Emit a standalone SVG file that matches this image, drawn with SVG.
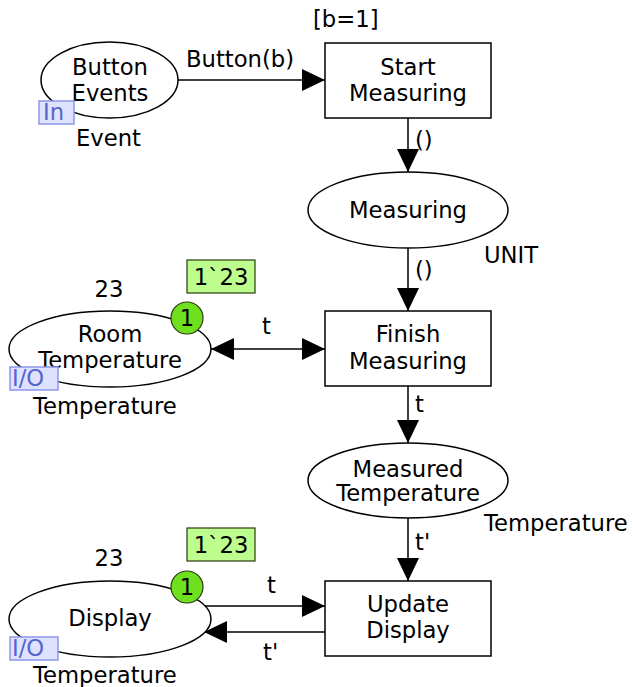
<svg xmlns="http://www.w3.org/2000/svg" width="633" height="687" viewBox="0 0 633 687">
<style>
text{font-family:"DejaVu Sans","Verdana",sans-serif;font-size:22.7px;fill:#000}
.c{text-anchor:middle}
.place,.trans{fill:#fff;stroke:#000;stroke-width:1.5}
.arc{stroke:#000;stroke-width:1.5;fill:none}
.port{fill:#dfe2ff;stroke:#8c96e8;stroke-width:1.5}
.portt{fill:#5566cc}
.tok{fill:#6ee01e;stroke:#2a3a10;stroke-width:1.2}
.mark{fill:#bdfd8e;stroke:#2a3a10;stroke-width:1.2}
</style>
<defs>
<marker id="ah" viewBox="0 0 23 22" refX="23" refY="11" markerWidth="23" markerHeight="22" markerUnits="userSpaceOnUse" orient="auto-start-reverse">
<path d="M0,0 L23,11 L0,22 z" fill="#000"/>
</marker>
</defs>
<g id="connectors">
<line class="arc" x1="178" y1="80" x2="325" y2="80" marker-end="url(#ah)"/>
<text x="186" y="67">Button(b)</text>
<line class="arc" x1="408" y1="118" x2="408" y2="172" marker-end="url(#ah)"/>
<text x="415" y="148">()</text>
<line class="arc" x1="408" y1="248" x2="408" y2="311" marker-end="url(#ah)"/>
<text x="415" y="278">()</text>
<line class="arc" x1="211" y1="349" x2="325" y2="349" marker-start="url(#ah)" marker-end="url(#ah)"/>
<text x="262" y="334">t</text>
<line class="arc" x1="408" y1="386" x2="408" y2="443" marker-end="url(#ah)"/>
<text x="415" y="412">t</text>
<line class="arc" x1="408" y1="518" x2="408" y2="581" marker-end="url(#ah)"/>
<text x="415" y="550">t'</text>
<line class="arc" x1="203" y1="606" x2="325" y2="606" marker-end="url(#ah)"/>
<text x="267" y="593">t</text>
<line class="arc" x1="325" y1="632" x2="204" y2="632" marker-end="url(#ah)"/>
<text x="263" y="660">t'</text>
</g>
<g id="button-events">
<ellipse class="place" cx="109.5" cy="80" rx="68.5" ry="38"/>
<text class="c" x="110" y="75">Button</text>
<text class="c" x="110" y="101">Events</text>
<rect class="port" x="39" y="101" width="35" height="23"/>
<text class="portt" x="43" y="120">In</text>
<text x="76" y="146">Event</text>
</g>
<g id="start-measuring">
<rect class="trans" x="325" y="43" width="166" height="75"/>
<text class="c" x="408" y="75">Start</text>
<text class="c" x="408" y="101">Measuring</text>
<text x="313" y="27">[b=1]</text>
</g>
<g id="measuring">
<ellipse class="place" cx="408" cy="210" rx="100" ry="38"/>
<text class="c" x="408" y="218">Measuring</text>
<text x="484" y="263">UNIT</text>
</g>
<g id="finish-measuring">
<rect class="trans" x="325" y="311" width="166" height="75"/>
<text class="c" x="408" y="342">Finish</text>
<text class="c" x="408" y="369">Measuring</text>
</g>
<g id="room-temperature">
<ellipse class="place" cx="110" cy="349" rx="101" ry="38"/>
<text class="c" x="110" y="342">Room</text>
<text class="c" x="110" y="368">Temperature</text>
<rect class="port" x="10" y="367" width="48" height="23"/>
<text class="portt" x="12" y="386">I/O</text>
<text x="33" y="414">Temperature</text>
<text class="c" x="109" y="297">23</text>
<circle class="tok" cx="187" cy="318" r="16"/>
<text class="c" x="187" y="326">1</text>
<rect class="mark" x="187" y="260" width="68" height="33"/>
<text class="c" x="221" y="285">1`23</text>
</g>
<g id="measured-temperature">
<ellipse class="place" cx="408" cy="480.5" rx="100" ry="37.5"/>
<text class="c" x="408" y="477">Measured</text>
<text class="c" x="408" y="501">Temperature</text>
<text x="484" y="531">Temperature</text>
</g>
<g id="display">
<ellipse class="place" cx="110" cy="619" rx="101" ry="38"/>
<text class="c" x="110" y="626">Display</text>
<rect class="port" x="10" y="637" width="48" height="23"/>
<text class="portt" x="12" y="656">I/O</text>
<text x="33" y="683">Temperature</text>
<text class="c" x="109" y="566">23</text>
<circle class="tok" cx="187" cy="587" r="16"/>
<text class="c" x="187" y="595">1</text>
<rect class="mark" x="187" y="528" width="68" height="33"/>
<text class="c" x="221" y="553">1`23</text>
</g>
<g id="update-display">
<rect class="trans" x="325" y="581" width="166" height="75"/>
<text class="c" x="408" y="612">Update</text>
<text class="c" x="408" y="638">Display</text>
</g>
</svg>
